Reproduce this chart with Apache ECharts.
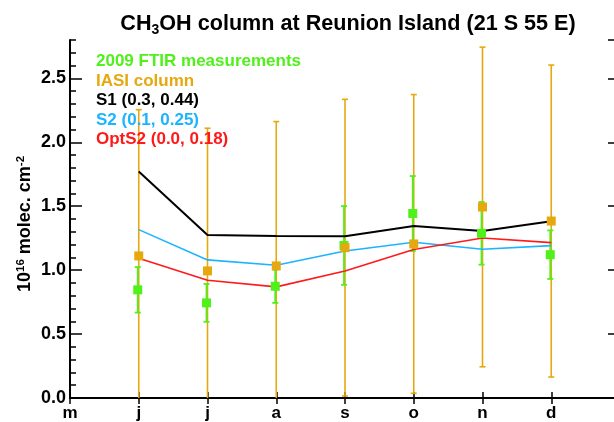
<!DOCTYPE html>
<html>
<head>
<meta charset="utf-8">
<script src="https://cdn.jsdelivr.net/npm/echarts@6/dist/echarts.min.js"></script>
<style>
html,body{margin:0;padding:0;background:#fff;}
#chart{width:614px;height:422px;}
</style>
</head>
<body>
<div id="chart"></div>
<script>
// Months (5 = May ... 13 = January of next year)
const months = [6, 7, 8, 9, 10, 11, 12];
const monthLabels = {5: 'm', 6: 'j', 7: 'j', 8: 'a', 9: 's', 10: 'o', 11: 'n', 12: 'd', 13: 'j'};

// 2009 FTIR measurements (green) and their errors
const ftir    = [0.846, 0.744, 0.874, 1.193, 1.443, 1.288, 1.121];
const ftirErr = [0.178, 0.148, 0.130, 0.308, 0.293, 0.245, 0.190];

// IASI column (orange) and their errors
const iasi    = [1.111, 0.994, 1.033, 1.176, 1.205, 1.494, 1.384];
const iasiErr = [1.144, 1.116, 1.129, 1.160, 1.168, 1.250, 1.220];

// Model runs
const s1    = [1.772, 1.275, 1.267, 1.265, 1.345, 1.306, 1.382];
const s2    = [1.317, 1.080, 1.038, 1.150, 1.218, 1.163, 1.192];
const optS2 = [1.093, 0.921, 0.869, 0.994, 1.161, 1.251, 1.215];

const C_GREEN = '#50f01a', C_ORANGE = '#e6a80f', C_BLACK = '#000000', C_BLUE = '#1cb4ff', C_RED = '#ff1a1a';
const FONT = 'Liberation Sans';

const pairs = arr => months.map((m, i) => [m, arr[i]]);
const errData = (vals, errs) => months.map((m, i) => [m, vals[i] - errs[i], vals[i] + errs[i]]);

function errRender(color, lw, dx) {
  return function (params, api) {
    const x = api.value(0), lo = api.value(1), hi = api.value(2);
    const p1 = api.coord([x, lo]), p2 = api.coord([x, hi]);
    const cx = p1[0] + dx, hw = 3;
    const st = {stroke: color, lineWidth: lw};
    return {
      type: 'group',
      children: [
        {type: 'line', shape: {x1: cx, y1: p1[1], x2: cx, y2: p2[1]}, style: st},
        {type: 'line', shape: {x1: cx - hw, y1: p1[1], x2: cx + hw, y2: p1[1]}, style: st},
        {type: 'line', shape: {x1: cx - hw, y1: p2[1], x2: cx + hw, y2: p2[1]}, style: st}
      ]
    };
  };
}

const axisLine = {show: true, lineStyle: {color: '#000', width: 2}};
const yCommon = {type: 'value', min: 0, max: 2.8, splitLine: {show: false}, axisLine: axisLine};
const xCommon = {type: 'value', min: 5, max: 13, interval: 1, splitLine: {show: false}, axisLine: axisLine};

const chart = echarts.init(document.getElementById('chart'));
chart.setOption({
  animation: false,
  backgroundColor: '#fff',
  title: {
    text: '{a|CH}{s|3}{a|OH column at Reunion Island (21 S 55 E)}',
    left: 343, top: 6, textAlign: 'center',
    textStyle: {
      rich: {
        a: {fontFamily: FONT, fontWeight: 'bold', fontSize: 21.6, color: '#000', lineHeight: 26},
        s: {fontFamily: FONT, fontWeight: 'bold', fontSize: 14, color: '#000', lineHeight: 10, verticalAlign: 'bottom'}
      }
    }
  },
  legend: {
    orient: 'vertical', left: 86, top: 47, itemWidth: 0, itemHeight: 0, itemGap: 0,
    icon: 'rect', selectedMode: false,
    textStyle: {fontFamily: FONT, fontWeight: 'bold', fontSize: 17, lineHeight: 19.4},
    data: [
      {name: '2009 FTIR measurements', textStyle: {color: C_GREEN}},
      {name: 'IASI column', textStyle: {color: C_ORANGE}},
      {name: 'S1 (0.3, 0.44)', textStyle: {color: C_BLACK}},
      {name: 'S2 (0.1, 0.25)', textStyle: {color: C_BLUE}},
      {name: 'OptS2 (0.0, 0.18)', textStyle: {color: C_RED}}
    ]
  },
  grid: {left: 70, width: 550, top: 40, height: 358, containLabel: false, outerBoundsMode: 'none'},
  xAxis: [
    Object.assign({}, xCommon, {
      position: 'bottom',
      axisTick: {show: true, inside: true, length: 6, lineStyle: {color: '#000', width: 1.5}},
      axisLabel: {
        show: true, margin: 7, color: '#000', fontFamily: FONT, fontWeight: 'bold', fontSize: 17,
        formatter: v => (v < 13 ? (monthLabels[v] || '') : '')
      }
    }),
    Object.assign({}, xCommon, {
      position: 'top',
      axisTick: {show: true, inside: true, length: 6, lineStyle: {color: '#000', width: 1.5}},
      axisLabel: {show: false}
    })
  ],
  yAxis: [
    Object.assign({}, yCommon, {
      position: 'left', interval: 0.5,
      axisTick: {show: true, inside: true, length: 12, lineStyle: {color: '#000', width: 1.5}},
      axisLabel: {
        show: true, margin: 4, color: '#000', fontFamily: FONT, fontWeight: 'bold', fontSize: 18,
        showMaxLabel: false, formatter: v => v.toFixed(1)
      },
      name: '{n|10}{p|16}{n| molec. cm}{p|-2}',
      nameLocation: 'middle', nameGap: 35, nameRotate: 90, nameMoveOverlap: false,
      nameTextStyle: {
        padding: [0, 10, 0, 0],
        rich: {
          n: {fontFamily: FONT, fontWeight: 'bold', fontSize: 18, color: '#000', lineHeight: 20},
          p: {fontFamily: FONT, fontWeight: 'bold', fontSize: 11.5, color: '#000', lineHeight: 11, verticalAlign: 'top'}
        }
      }
    }),
    Object.assign({}, yCommon, {
      position: 'left', interval: 0.1,
      axisLine: {show: false},
      axisTick: {show: true, inside: true, length: 6, lineStyle: {color: '#000', width: 1.5}},
      axisLabel: {show: false}
    }),
    Object.assign({}, yCommon, {
      position: 'right', interval: 0.5,
      axisTick: {show: true, inside: true, length: 12, lineStyle: {color: '#000', width: 1.5}},
      axisLabel: {show: false}
    }),
    Object.assign({}, yCommon, {
      position: 'right', interval: 0.1,
      axisLine: {show: false},
      axisTick: {show: true, inside: true, length: 6, lineStyle: {color: '#000', width: 1.5}},
      axisLabel: {show: false}
    })
  ],
  series: [
    {
      name: 'IASI error', type: 'custom', clip: true,
      renderItem: errRender(C_ORANGE, 1.6, 0),
      data: errData(iasi, iasiErr), z: 2
    },
    {
      name: 'FTIR error', type: 'custom', clip: true,
      renderItem: errRender(C_GREEN, 1.8, -1),
      data: errData(ftir, ftirErr), z: 2
    },
    {
      name: 'S1 (0.3, 0.44)', type: 'line', data: pairs(s1), showSymbol: false, symbol: 'none',
      lineStyle: {color: C_BLACK, width: 2}, itemStyle: {color: C_BLACK}, z: 3
    },
    {
      name: 'S2 (0.1, 0.25)', type: 'line', data: pairs(s2), showSymbol: false, symbol: 'none',
      lineStyle: {color: C_BLUE, width: 1.6}, itemStyle: {color: C_BLUE}, z: 3
    },
    {
      name: 'OptS2 (0.0, 0.18)', type: 'line', data: pairs(optS2), showSymbol: false, symbol: 'none',
      lineStyle: {color: C_RED, width: 1.6}, itemStyle: {color: C_RED}, z: 3
    },
    {
      name: '2009 FTIR measurements', type: 'scatter', data: pairs(ftir), symbol: 'rect', symbolSize: 9,
      symbolOffset: [-1, 0], itemStyle: {color: C_GREEN, opacity: 1}, z: 4
    },
    {
      name: 'IASI column', type: 'scatter', data: pairs(iasi), symbol: 'rect', symbolSize: 9,
      itemStyle: {color: C_ORANGE, opacity: 1}, z: 5
    }
  ]
});
</script>
</body>
</html>
